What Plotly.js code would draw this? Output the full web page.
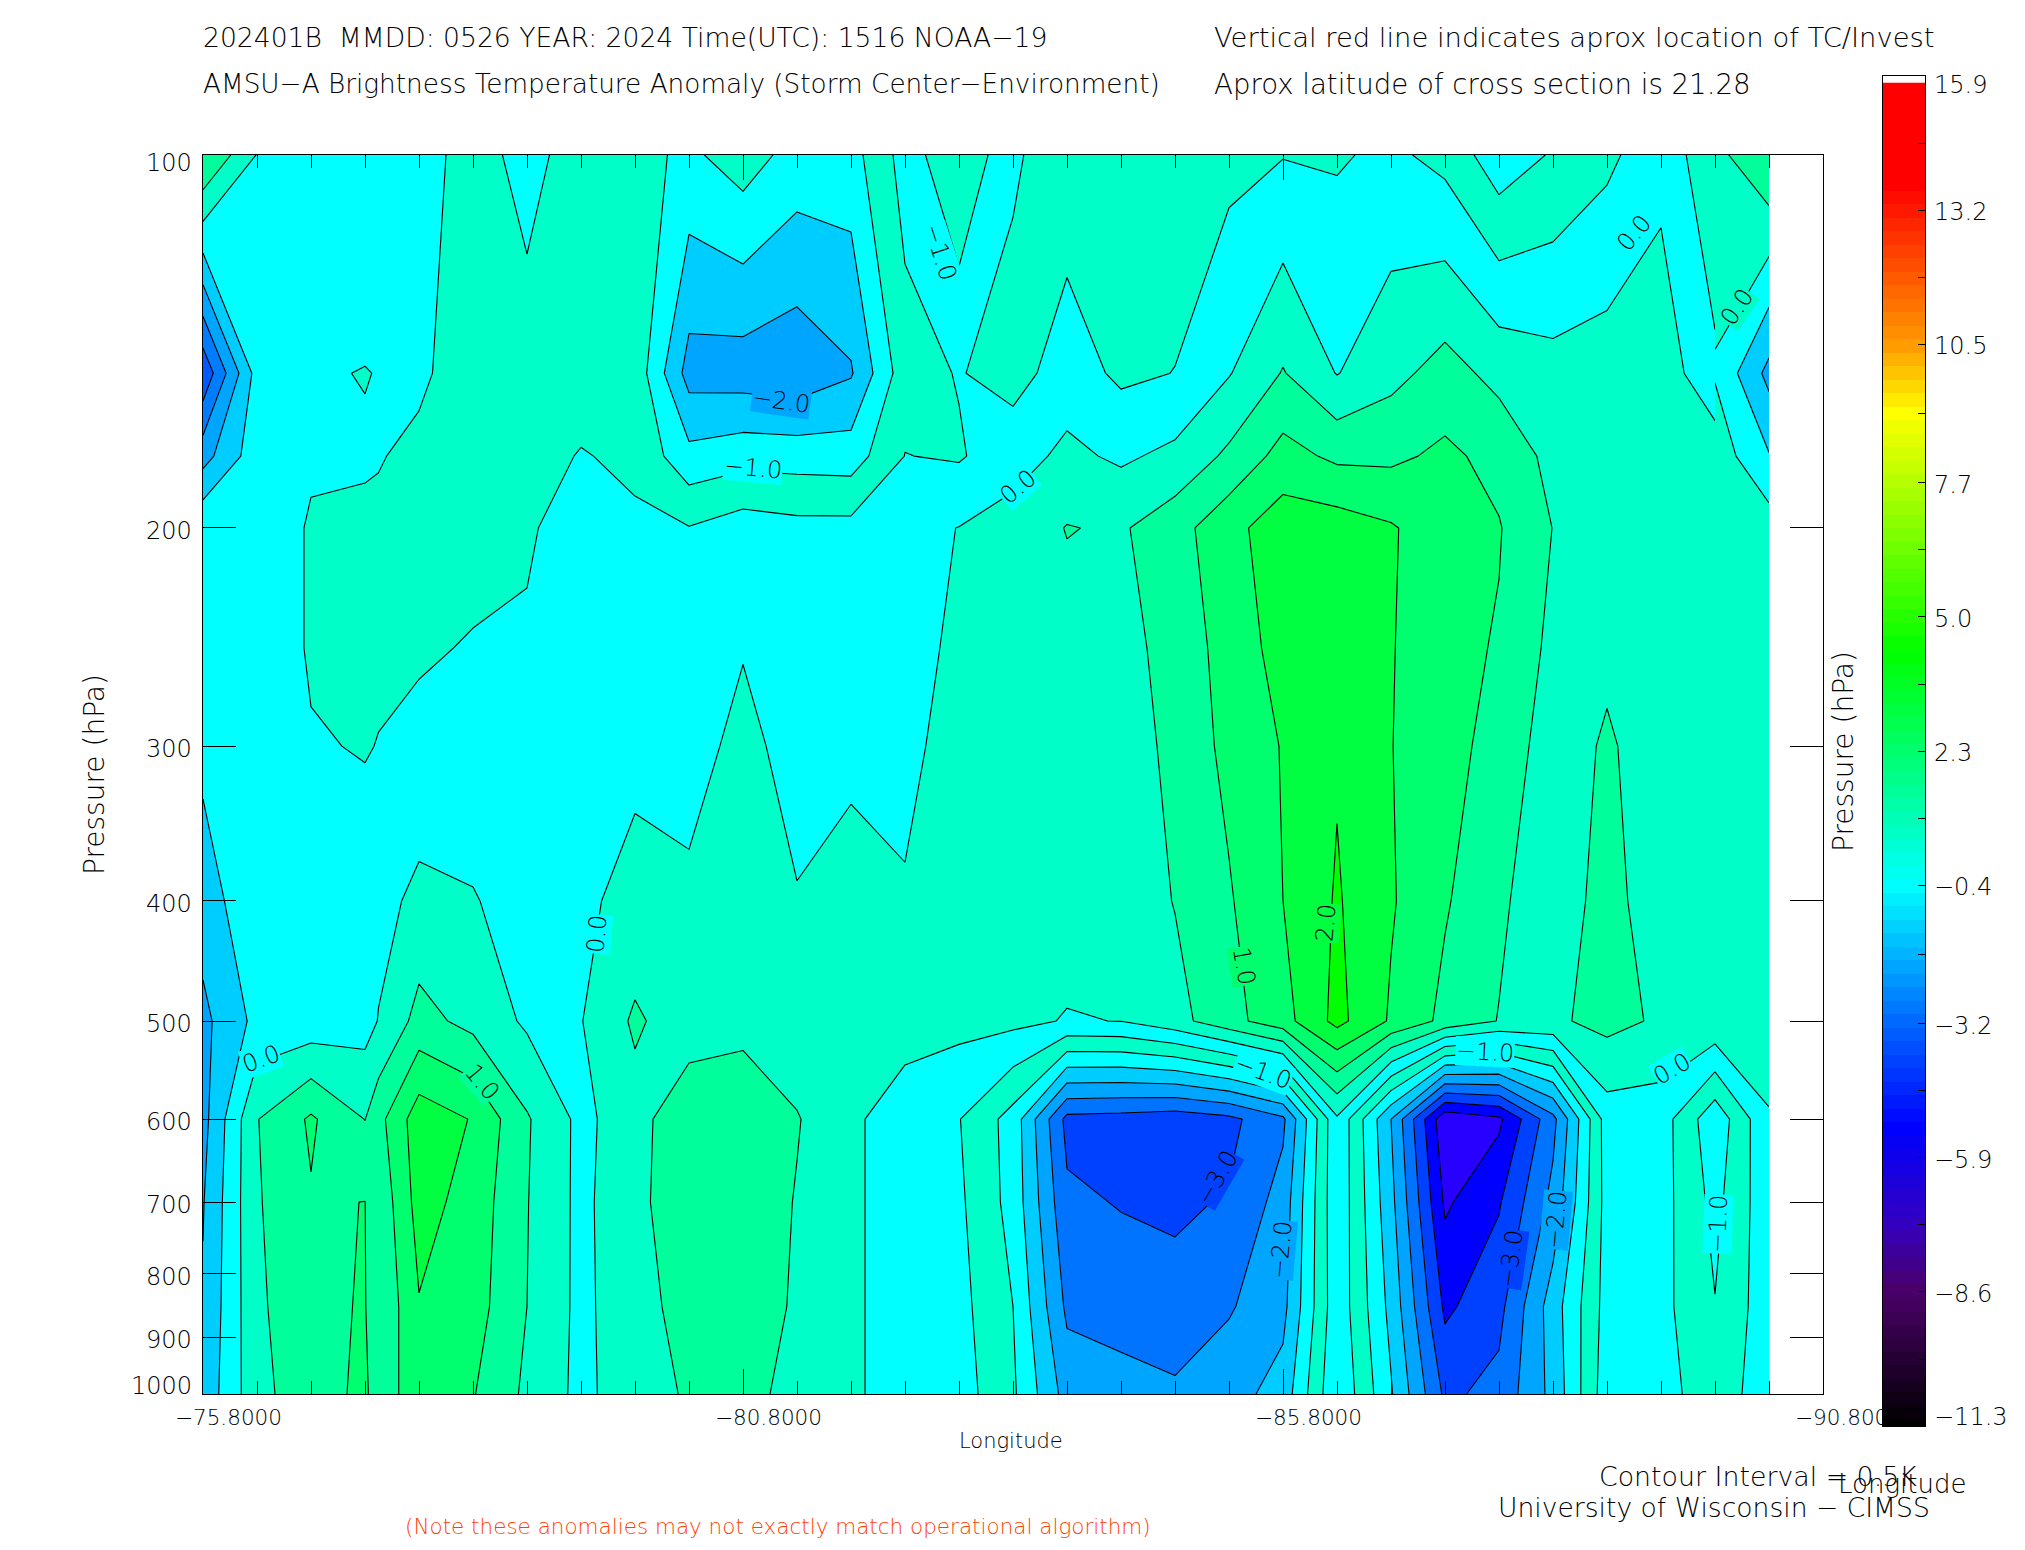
<!DOCTYPE html>
<html><head><meta charset="utf-8">
<script src="https://cdn.plot.ly/plotly-3.0.1.min.js"></script>
<style>html,body{margin:0;padding:0;background:#fff}</style></head>
<body><div id="chart" style="width:2025px;height:1550px"></div>
<script>
const pressure=[100,150,175,200,250,300,400,500,600,700,850,1000];
const lon=[-75.8,-76.3,-76.8,-77.3,-77.425,-77.8,-78.3,-78.8,-79.3,-79.8,-80.3,-80.8,-81.3,-81.8,-82.3,-82.8,-83.3,-83.8,-84.3,-84.8,-85.3,-85.8,-86.3,-86.8,-87.3,-87.8,-88.3,-88.8,-89.3,-89.8,-90.3];
// anomaly (K) at each pressure level, one list per longitude
const col00=[1.05,-2.4,-1.2,-.05,-.2,-.37,-.75,-1.13,-1.17,-1.03,-.95,-.85];
const col01=[-.02,-.3,-.2,-.1,-.1,-.1,-.12,-.36,.48,.45,.4,.35];
const col02=[-.2,-.47,-.42,-.56,-.56,-.46,-.2,-.31,1.07,.96,.9,.8];
const col03=[-.2,-.51,-.47,-.55,-.6,-.53,-.25,-.2,.49,1.005,1.03,1.1];
const col03b=[-.22,-.49,-.47,-.6,-.59,-.485,-.16,.02,.84,.62,.53,.7];
const col04=[-.3,-.4,-.62,-.67,-.57,-.35,.12,.67,1.78,1.7,1.47,1.3];
const col05=[-.7,-.8,-.75,-.7,-.46,-.3,.03,.35,1.47,1.3,1.22,1.03];
const col06=[-1.25,-.7,-.7,-.58,-.42,-.3,-.2,-.08,.55,.52,.5,.4];
const col07=[-.65,-.75,-.47,-.2,-.15,-.12,-.08,-.02,-.13,-.13,-.13,-.13];
const col08=[-.85,-.67,-.6,-.42,-.25,-.1,.13,.58,.3,.4,.35,.3];
const col09=[-1.1,-2.2,-1.35,-.48,-.35,-.2,.1,.2,.9,.75,.65,.55];
const col10=[-.75,-2.25,-1.2,-.25,-.03,.15,.3,.35,.85,.82,.8,.75];
const col11=[-1.2,-2.35,-1.22,-.35,-.3,-.2,.03,.2,.53,.47,.43,.25];
const col12=[-1.2,-2.05,-1.25,-.35,-.3,-.12,.2,.22,.13,.13,.13,.13];
const col13=[-.3,-.7,-.49,-.15,-.2,-.15,.05,.3,-.37,-.37,-.37,-.37];
const col14=[.49,-.47,-.55,.01,.11,.24,.25,.15,-.48,-.41,-.34,-.27];
const col15=[-.42,-.7,-.2,.2,.2,.2,.2,.12,-1.2,-1.18,-1.0,-.92];
const col16=[-.82,-.25,.11,.52,.3,.25,.25,-.03,-3.15,-2.9,-2.6,-2.2];
const col17=[-.75,-.6,-.08,.44,.25,.2,.2,.01,-3.2,-3.03,-2.72,-2.3];
const col18=[-.8,-.49,.12,.8,.77,.65,.52,.33,-3.3,-3.1,-2.8,-2.42];
const col19=[-.65,-.03,.6,1.34,1.15,1.13,.95,.83,-3.13,-2.95,-2.55,-2.2];
const col20=[-.52,.53,1.18,1.78,1.73,1.53,1.5,1.31,-2.6,-2.3,-2.15,-1.8];
const col21=[-.55,-.02,.9,1.75,1.95,1.95,2.05,2.15,-.07,-.1,-.15,-.04];
const col22=[-.4,.35,.9,1.55,1.53,1.51,1.55,1.44,-2.0,-1.85,-1.65,-1.45];
const col23=[-.65,.69,1.1,1.2,1.15,1.25,1.05,.87,-4.4,-4.08,-3.6,-3.1];
const col24=[-1.3,.35,.85,1.03,.96,.75,.6,.48,-4.1,-3.55,-3.15,-2.85];
const col25=[-.95,.18,.35,.49,.37,.3,.12,.42,-2.65,-2.35,-1.75,-1.85];
const col26=[-.62,.25,.3,.35,.42,.55,.75,.65,-.25,-.3,-.3,-.2];
const col27=[-.15,.3,.3,.3,.3,.3,.1,.43,-.26,-.3,-.35,-.37];
const col28=[-.9,-.4,.3,.3,.3,.28,.28,.41,-1.35,-1.15,-.98,-.7];
const col29=[1.0,-1.15,-.47,.25,.25,.25,.3,.35,-.05,-.15,-.2,-.3];
const col28edge=[.33,-.04,.3,.3];
const columns=[col00,col01,col02,col03,col03b,col04,col05,col06,col07,col08,col09,col10,col11,col12,col13,col14,col15,col16,col17,col18,col19,col20,col21,col22,col23,col24,col25,col26,col27,col28,col29];

// fill colour of each 0.5 K band, from below -4 up to above 2
const bandColors=['#2800ff','#0000ff','#0041ff','#0073ff','#00a5ff','#00cdff','#00ffff','#00ffc8','#00ffff','#00ffc8','#00ff9b','#00ff6e','#00ff40','#00ff00'];
const edgeColors=['#003cff','#005aff','#007dff','#00a5ff','#00cdff','#00ffff','#00ffc8','#00ff9b'];
// rainbow of the colour bar
const barStops=[[-11.3,'#000000'],[-8.6,'#4a0068'],[-7.2,'#3300c0'],[-5.3,'#0000ff'],[-3.2,'#0066ff'],[-0.4,'#00ffff'],[4.3,'#00ff00'],[7.7,'#b4ff00'],[9.1,'#ffff00'],[10.5,'#ff9900'],[13.7,'#ff0000'],[15.9,'#ff0000']];
const barTicks=[-11.3,-8.6,-5.9,-3.2,-0.4,2.3,5.0,7.7,10.5,13.2,15.9];
const barLabels=['−11.3','−8.6','−5.9','−3.2','−0.4','2.3','5.0','7.7','10.5','13.2','15.9'];
const pressureTicks=[100,200,300,400,500,600,700,800,900,1000];
const lonTicks=[-75.8,-80.8,-85.8,-90.8];
const lonTickText=['−75.8000','−80.8000','−85.8000','−90.8000'];

const W=2025,H=1550;
const FONT='"DejaVu Sans ExtraLight","DejaVu Sans Light","DejaVu Sans",sans-serif';
const px=x=>x/W, py=y=>1-y/H;
const scale=c=>c.map((v,i)=>[i/(c.length-1),v]);
const pick=(cols,n)=>pressure.slice(0,n).map((_,r)=>cols.map(c=>c[r]));

const lineStyle={color:'#000',width:1.1,smoothing:0};
const main={type:'contour',x:lon,y:pressure,z:pick(columns,12),autocontour:false,
  contours:{start:-4,end:2,size:.5,coloring:'fill',showlines:true},line:lineStyle,
  colorscale:scale(bandColors),showscale:false,hoverinfo:'skip',xaxis:'x',yaxis:'y'};
const edgeL={type:'contour',x:lon.slice(0,2),y:pressure,z:pick([col00,col01],12),autocontour:false,
  contours:{start:-2.5,end:.5,size:.5,coloring:'fill',showlines:true},line:lineStyle,
  colorscale:scale(edgeColors),showscale:false,hoverinfo:'skip',xaxis:'x',yaxis:'y'};
const edgeR={type:'contour',x:lon.slice(-2),y:pressure.slice(0,4),z:pick([col28edge,col29],4),autocontour:false,
  contours:{start:-2.5,end:.5,size:.5,coloring:'fill',showlines:true},line:lineStyle,
  colorscale:scale(edgeColors),showscale:false,hoverinfo:'skip',xaxis:'x',yaxis:'y'};

const barY=[];for(let v=-11.3;v<15.65;v+=.272)barY.push(+v.toFixed(3));
const bar={type:'heatmap',x:[0,1],y:barY,z:barY.map(v=>[v,v]),zmin:-11.3,zmax:15.9,
  colorscale:barStops.map(s=>[Math.min(1,Math.max(0,+((s[0]+11.3)/27.2).toFixed(5))),s[1]]),showscale:false,hoverinfo:'skip',xaxis:'x2',yaxis:'y2'};

const note=(text,x,y,size,o={})=>Object.assign({text,xref:'paper',yref:'paper',x:px(x),y:py(y),xanchor:'left',yanchor:'middle',showarrow:false,font:{family:FONT,size,color:'#000',weight:200}},o);
const annotations=[
 note('202401B  MMDD: 0526 YEAR: 2024 Time(UTC): 1516 NOAA−19',200.5,37,26.6),
 note('AMSU−A Brightness Temperature Anomaly (Storm Center−Environment)',200.5,84,26.3),
 note('Vertical red line indicates aprox location of TC/Invest',1211.5,37,27.4),
 note('Aprox latitude of cross section is 21.28',1211.5,84,27.6),
 note('Pressure (hPa)',94,775,28,{xanchor:'center',textangle:-90}),
 note('Pressure (hPa)',1844,752,28,{xanchor:'center',textangle:-90}),
 note('Longitude',1011,1441,21,{xanchor:'center'}),
 note('Contour Interval = 0.5K',1596.5,1476.5,26.8),
 note('Longitude',1902,1484,26,{xanchor:'center'}),
 note('University of Wisconsin − CIMSS',1495.5,1507.5,26.6),
 note('(Note these anomalies may not exactly match operational algorithm)',402.5,1526,21.5,{font:{family:FONT,size:21.5,color:'#ff4000',weight:200}}),
];
lonTicks.forEach((v,i)=>annotations.push({text:lonTickText[i],xref:'x',yref:'paper',x:v,y:py(1417),xshift:25,xanchor:'center',yanchor:'middle',showarrow:false,font:{family:FONT,size:21.5,color:'#000',weight:200}}));
pressureTicks.forEach(v=>{const s=v==100?-8:v==1000?8:-3;
 annotations.push({text:String(v),xref:'paper',yref:'y',x:px(194),y:Math.log10(v),yshift:s,xanchor:'right',yanchor:'middle',showarrow:false,font:{family:FONT,size:24,color:'#000',weight:200}});});
barTicks.forEach((v,i)=>{const s=v==15.9?-9:v==-11.3?9:-2;
 annotations.push({text:barLabels[i],xref:'paper',yref:'y2',x:px(1931.5),y:v,yshift:s,xanchor:'left',yanchor:'middle',showarrow:false,font:{family:FONT,size:24,color:'#000',weight:200}});});
// contour labels: text, centre (px of the page), rotation, background
const labels=[['−2.0',781,401,8,'#00a5ff'],['−1.0',753,468,5,'#00ffff'],['0.0',1018,487,-40,'#00ffff'],['−1.0',940,252,72,'#00ffff'],
 ['0.0',1634,233,-50,'#00ffff'],['0.0',1737,307,-55,'#00ffc8'],['0.0',261,1059,-20,'#00ffff'],['1.0',482,1082,50,'#00ff9b'],
 ['0.0',597,934,-85,'#00ffff'],['2.0',1326,923,-85,'#00ff40'],['1.0',1244,966,80,'#00ff6e'],['−1.0',1263,1072,20,'#00ffff'],
 ['−1.0',1485,1052,3,'#00ffff'],['0.0',1672,1069,-30,'#00ffff'],['−3.0',1217,1178,-60,'#0041ff'],['−2.0',1281,1250,-85,'#00a5ff'],
 ['−2.0',1556,1220,-85,'#00a5ff'],['−3.0',1511,1259,-82,'#0041ff'],['−1.0',1718,1224,-88,'#00ffff']];
labels.forEach(l=>annotations.push({text:l[0],xref:'paper',yref:'paper',x:px(l[1]),y:py(l[2]),xanchor:'center',yanchor:'middle',textangle:l[3],showarrow:false,bgcolor:l[4],borderpad:0,font:{family:FONT,size:24,color:'#000',weight:200}}));

const layout={width:W,height:H,margin:{l:0,r:0,t:0,b:0,pad:0},paper_bgcolor:'#fff',plot_bgcolor:'#fff',showlegend:false,
 font:{family:FONT},annotations,
 xaxis:{domain:[px(203),px(1823)],range:[-75.8,-90.8],anchor:'y',showgrid:false,zeroline:false,showline:true,linecolor:'#000',linewidth:1,mirror:'ticks',
   tickmode:'array',tickvals:lonTicks,ticks:'inside',ticklen:25,tickcolor:'#000',tickwidth:1,showticklabels:false,
   minor:{ticks:'inside',ticklen:13,tickcolor:'#000',tickwidth:1,tickmode:'array',tickvals:lon.filter(v=>v!=-77.425).concat([-90.8])}},
 yaxis:{domain:[py(1394),py(155)],type:'log',range:[3,2],anchor:'x',showgrid:false,zeroline:false,showline:true,linecolor:'#000',linewidth:1,mirror:'ticks',
   tickmode:'array',tickvals:pressureTicks.slice(1,-1),ticks:'inside',ticklen:33,tickcolor:'#000',tickwidth:1,showticklabels:false},
 xaxis2:{domain:[px(1883),px(1925)],range:[0,1],anchor:'y2',showgrid:false,zeroline:false,showline:true,linecolor:'#000',mirror:true,showticklabels:false,ticks:''},
 yaxis2:{domain:[py(1426),py(76)],range:[-11.3,15.9],anchor:'x2',side:'right',showgrid:false,zeroline:false,showline:true,linecolor:'#000',mirror:true,
   tickmode:'array',tickvals:barTicks.concat(barTicks.slice(0,-1).map((v,i)=>(v+barTicks[i+1])/2)),ticks:'inside',ticklen:7,tickcolor:'#000',showticklabels:false}
};
Plotly.newPlot('chart',[main,edgeL,edgeR,bar],layout,{staticPlot:true,displayModeBar:false});
</script></body></html>
